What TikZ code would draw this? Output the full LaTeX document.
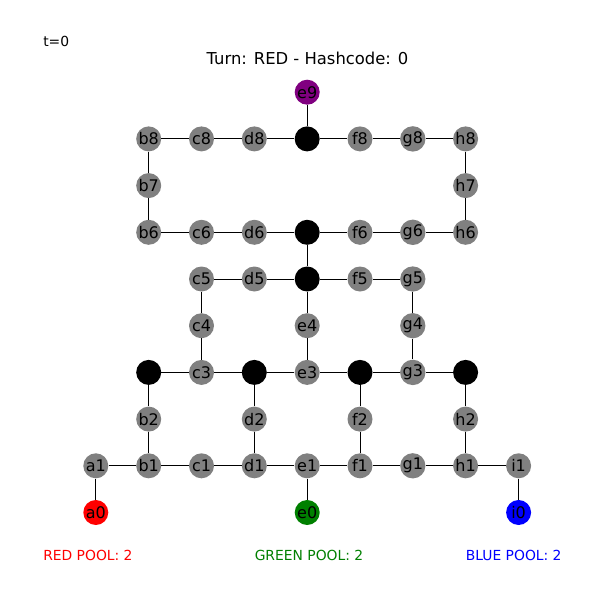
\documentclass[tikz,border=0pt]{standalone}
\usepackage{fontspec}
\setmainfont{DejaVu Sans}
\definecolor{mgray}{HTML}{808080}
\definecolor{mred}{HTML}{FF0000}
\definecolor{mgreen}{HTML}{008000}
\definecolor{mblue}{HTML}{0000FF}
\definecolor{mpurple}{HTML}{800080}
\tikzset{
  vtx/.style={circle,fill=mgray,minimum size=18.75pt,inner sep=0pt,font=\fontsize{12}{14}\selectfont,text=black},
  blk/.style={vtx,fill=black},
  edge/.style={line width=0.75pt,black},
  lbl/.style={inner sep=0pt,font=\fontsize{10.4}{12}\selectfont}
}
\begin{document}
\begin{tikzpicture}[x=0.75pt,y=-0.75pt]
\useasboundingbox (0,0) rectangle (600,600);
\fill[white] (0,0) rectangle (600,600);
% column and row positions
\def\ca{95.8}\def\cb{148.7}\def\cc{201.5}\def\cd{254.3}\def\ce{307.2}
\def\cf{360}\def\cg{412.8}\def\ch{465.6}\def\ci{518.6}
\newcommand{\ry}[1]{512.5-46.7*#1}
% nodes
\node[vtx,fill=mred] (a0) at (\ca,{\ry{0}}) {a0};
\node[vtx,fill=mgreen] (e0) at (\ce,{\ry{0}}) {e0};
\node[vtx,fill=mblue] (i0) at (\ci,{\ry{0}}) {i0};
\foreach \n/\x in {a/\ca,b/\cb,c/\cc,d/\cd,e/\ce,f/\cf,g/\cg,h/\ch,i/\ci}
  \node[vtx] (\n1) at (\x,{\ry{1}}) {\n1};
\foreach \n/\x in {b/\cb,d/\cd,f/\cf,h/\ch}
  \node[vtx] (\n2) at (\x,{\ry{2}}) {\n2};
\foreach \n/\x in {b/\cb,d/\cd,f/\cf,h/\ch}
  \node[blk] (\n3) at (\x,{\ry{3}}) {};
\foreach \n/\x in {c/\cc,e/\ce,g/\cg}
  \node[vtx] (\n3) at (\x,{\ry{3}}) {\n3};
\foreach \n/\x in {c/\cc,e/\ce,g/\cg}
  \node[vtx] (\n4) at (\x,{\ry{4}}) {\n4};
\foreach \n/\x in {c/\cc,d/\cd,f/\cf,g/\cg}
  \node[vtx] (\n5) at (\x,{\ry{5}}) {\n5};
\node[blk] (e5) at (\ce,{\ry{5}}) {};
\foreach \n/\x in {b/\cb,c/\cc,d/\cd,f/\cf,g/\cg,h/\ch}
  \node[vtx] (\n6) at (\x,{\ry{6}}) {\n6};
\node[blk] (e6) at (\ce,{\ry{6}}) {};
\foreach \n/\x in {b/\cb,h/\ch}
  \node[vtx] (\n7) at (\x,{\ry{7}}) {\n7};
\foreach \n/\x in {b/\cb,c/\cc,d/\cd,f/\cf,g/\cg,h/\ch}
  \node[vtx] (\n8) at (\x,{\ry{8}}) {\n8};
\node[blk] (e8) at (\ce,{\ry{8}}) {};
\node[vtx,fill=mpurple] (e9) at (\ce,{\ry{9}}) {e9};
% edges
\draw[edge] (e9) -- (e8);
\draw[edge] (b8) -- (c8) -- (d8) -- (e8) -- (f8) -- (g8) -- (h8);
\draw[edge] (b8) -- (b7) -- (b6);
\draw[edge] (h8) -- (h7) -- (h6);
\draw[edge] (b6) -- (c6) -- (d6) -- (e6) -- (f6) -- (g6) -- (h6);
\draw[edge] (e6) -- (e5);
\draw[edge] (c5) -- (d5) -- (e5) -- (f5) -- (g5);
\draw[edge] (c5) -- (c4) -- (c3);
\draw[edge] (e5) -- (e4) -- (e3);
\draw[edge] (g5) -- (g4) -- (g3);
\draw[edge] (b3) -- (c3) -- (d3) -- (e3) -- (f3) -- (g3) -- (h3);
\draw[edge] (b3) -- (b2) -- (b1);
\draw[edge] (d3) -- (d2) -- (d1);
\draw[edge] (f3) -- (f2) -- (f1);
\draw[edge] (h3) -- (h2) -- (h1);
\draw[edge] (a1) -- (b1) -- (c1) -- (d1) -- (e1) -- (f1) -- (g1) -- (h1) -- (i1);
\draw[edge] (a1) -- (a0);
\draw[edge] (e1) -- (e0);
\draw[edge] (i1) -- (i0);
% texts
\node[lbl,anchor=west] (t) at (43,41) {t=0};
\node[lbl,font=\fontsize{12.3}{14}\selectfont] (title) at (307.5,58) {Turn: RED - Hashcode: 0};
\node[lbl,anchor=west,text=mred] (rp) at (43,555) {RED POOL: 2};
\node[lbl,text=mgreen] (gp) at (309,555) {GREEN POOL: 2};
\node[lbl,text=mblue] (bp) at (513.7,555) {BLUE POOL: 2};
\end{tikzpicture}
\end{document}
